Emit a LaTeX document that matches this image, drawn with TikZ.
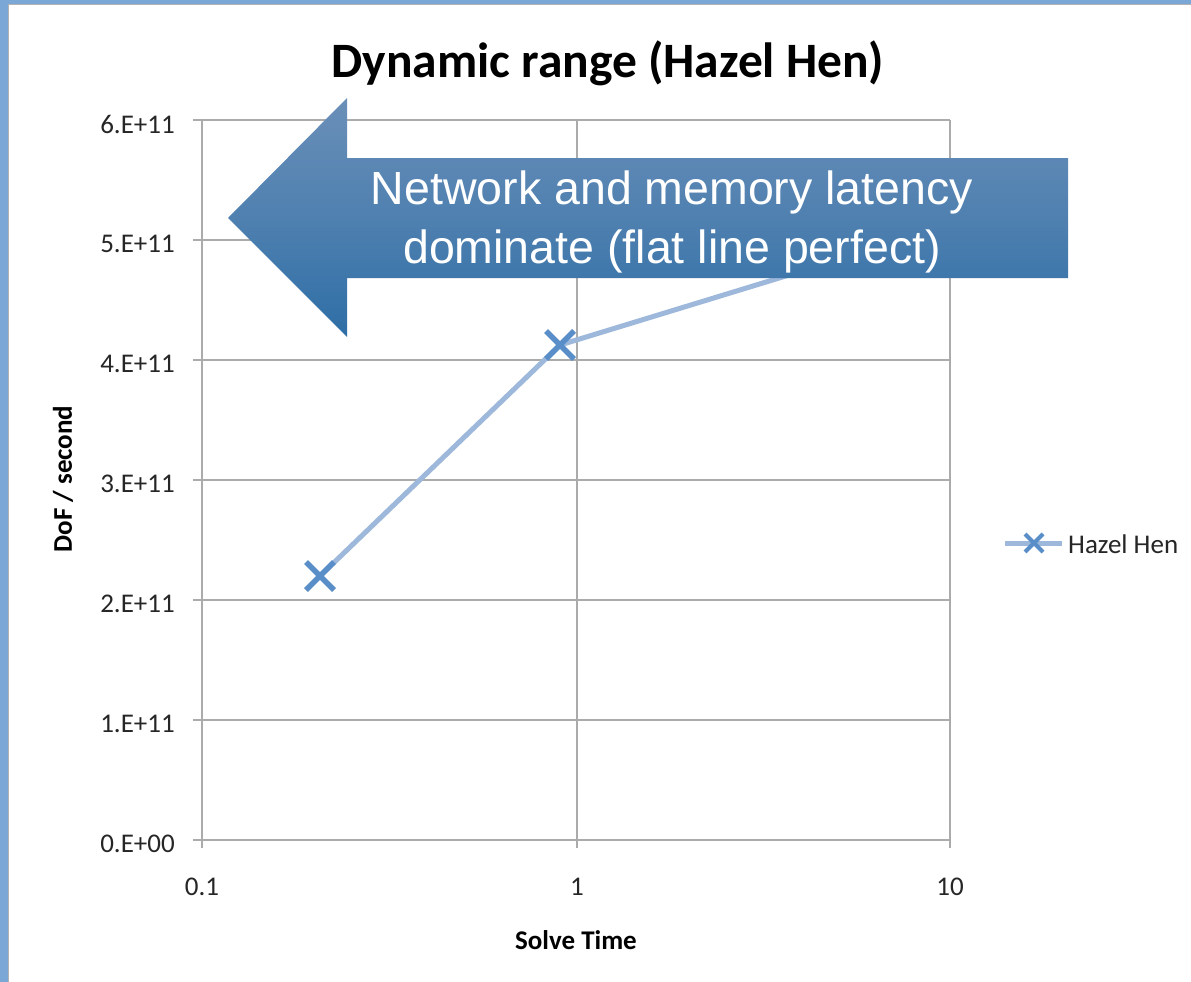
\documentclass[tikz,border=0pt]{standalone}
\usepackage{fontspec}
\setmainfont{Carlito}
\newfontfamily\arialfont{Liberation Sans}
\usetikzlibrary{positioning}

\definecolor{slideblue}{HTML}{7BA7D7}
\definecolor{gridgray}{HTML}{ABABAB}
\definecolor{serieslight}{HTML}{9DB8DA}
\definecolor{seriesmark}{HTML}{5A8EC8}
\definecolor{arrowtop}{HTML}{6A8FB8}
\definecolor{arrowbot}{HTML}{2E6EA6}

\tikzset{
  grid line/.style={draw=gridgray, line width=1.8pt},
  tick label/.style={font=\fontsize{27}{32}\selectfont, text=black!85, inner sep=0pt},
  axis title/.style={font=\fontsize{27}{32}\selectfont\bfseries, inner sep=0pt},
  series/.style={draw=serieslight, line width=5pt},
  xmark/.style={draw=seriesmark, line width=5.5pt},
}

\begin{document}
\begin{tikzpicture}[x=1pt,y=-1pt]
  \useasboundingbox (0,0) rectangle (1191,982);
  \fill[white] (0,0) rectangle (1191,982);
  % slide frame
  \fill[slideblue] (0,0) rectangle (8,982);
  \fill[slideblue] (0,0) rectangle (1191,4);
  \draw[gray!60, line width=1pt] (8.5,982) -- (8.5,4.5) -- (1191,4.5);

  \node[font=\fontsize{49.5}{58}\selectfont\bfseries] (title) at (608,63) {Dynamic range (Hazel Hen)};

  % grid and axes
  \foreach \y in {120,240,...,720}
    \draw[grid line] (202,\y) -- (950,\y);
  \foreach \x in {577,950}
    \draw[grid line] (\x,120) -- (\x,848);
  \foreach \y in {120,240,...,840}
    \draw[grid line] (193,\y) -- (202,\y);
  \draw[grid line] (202,120) -- (202,848);
  \draw[grid line, line width=2.6pt] (193,840) -- (950,840);

  \foreach \v in {0,...,6}
    \node[tick label, anchor=east] (ylab\v) at (175,{844-120*\v}) {\v.E+\ifnum\v=0 00\else 11\fi};
  \node[tick label] (xlab0) at (202,887) {0.1};
  \node[tick label] (xlab1) at (577,887) {1};
  \node[tick label] (xlab2) at (950,887) {10};

  \node[axis title] (xtitle) at (576,940) {Solve Time};
  \node[axis title, rotate=90] (ytitle) at (63,479) {DoF / second};

  % series
  \coordinate (p1) at (320,576);
  \coordinate (p2) at (560,345);
  \coordinate (p3) at (838,260);
  \draw[series] (p1) -- (p2) -- (p3);
  \foreach \p in {p1,p2,p3}
    \draw[xmark] (\p) ++(-14,-14) -- ++(28,28) (\p) ++(-14,14) -- ++(28,-28);

  % legend
  \coordinate (legA) at (1005,543);
  \coordinate (legB) at (1062,543);
  \coordinate (legM) at (1034,543);
  \draw[series] (legA) -- (legB);
  \draw[xmark, line width=4pt] (legM) ++(-9,-9) -- ++(18,18) (legM) ++(-9,9) -- ++(18,-18);
  \node[tick label, anchor=west] (legend) at (1068,544) {Hazel Hen};

  % callout arrow
  \shade[top color=arrowtop, bottom color=arrowbot, middle color=arrowtop!55!arrowbot]
    (228,218) -- (347,98) -- (347,158) -- (1068,158) -- (1068,278)
    -- (347,278) -- (347,337) -- cycle;
  \node[align=center, text=white, font=\arialfont\fontsize{46.5}{59}\selectfont] (note) at (672,222)
    {Network and memory latency\\dominate (flat line perfect)};
\end{tikzpicture}
\end{document}
